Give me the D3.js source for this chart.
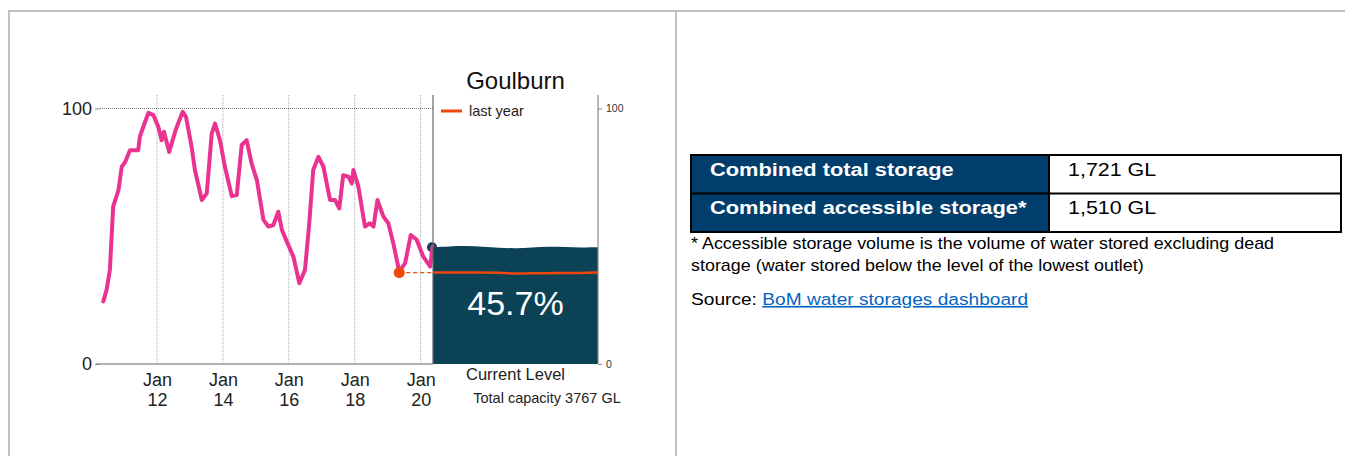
<!DOCTYPE html>
<html>
<head>
<meta charset="utf-8">
<script src="https://cdn.jsdelivr.net/npm/d3@7"></script>
<style>
  html, body { margin: 0; padding: 0; background: #fff; }
  svg { display: block; font-family: 'Liberation Sans', Arial, sans-serif; }
</style>
</head>
<body>
<div id="chart"></div>
<script>
// Goulburn storage level — history line + current level gauge, plus summary table

// time series (decimal year, % full)
const YEARS = [
  2010.37, 2010.47, 2010.52, 2010.57, 2010.67, 2010.83, 2010.93, 2011.03, 2011.18, 2011.43,
  2011.48, 2011.64, 2011.74, 2011.89, 2012.04, 2012.14, 2012.21, 2012.37, 2012.55, 2012.60,
  2012.78, 2012.88, 2013.05, 2013.15, 2013.36, 2013.51, 2013.66, 2013.76, 2013.91, 2014.06,
  2014.27, 2014.42, 2014.57, 2014.72, 2014.87, 2015.03, 2015.23, 2015.38, 2015.53, 2015.68,
  2015.79, 2015.94, 2016.14, 2016.32, 2016.49, 2016.62, 2016.74, 2016.90, 2017.05, 2017.25,
  2017.40, 2017.53, 2017.65, 2017.81, 2017.91, 2017.96, 2018.11, 2018.31, 2018.46, 2018.57,
  2018.69, 2018.87, 2019.02, 2019.17, 2019.35, 2019.53, 2019.70, 2019.88, 2020.08, 2020.29,
  2020.36,
];
const STORAGE_PCT = [
  24.5, 29.0, 33.0, 36.8, 61.6, 68.0, 77.2, 79.0, 83.7, 83.7,
  89.0, 94.8, 98.3, 97.4, 92.8, 87.6, 90.9, 83.0, 90.9, 92.8,
  98.7, 96.7, 85.0, 75.9, 64.2, 66.8, 90.2, 94.1, 87.6, 77.2,
  65.7, 66.1, 85.7, 87.6, 78.5, 72.0, 56.4, 53.8, 54.4, 59.6,
  52.5, 47.9, 42.0, 31.6, 36.8, 55.1, 75.9, 81.1, 77.2, 64.2,
  64.2, 60.9, 73.9, 73.3, 70.7, 75.9, 69.4, 53.8, 55.1, 53.8,
  64.2, 57.7, 55.1, 47.3, 36.2, 39.5, 50.5, 48.6, 42.0, 38.1,
  45.9,
];

const X_TICK_YEARS = [2012, 2014, 2016, 2018, 2020];
const X_TICK_LABELS = ['12', '14', '16', '18', '20'];
const Y_TICKS = [0, 100];

const DAM_NAME = 'Goulburn';
const CURRENT_PCT = 45.7;
const LAST_YEAR_PCT = 35.8;
const LAST_YEAR_AT = 2019.35;
const CAPACITY_GL = 3767;

const TABLE_LABELS = ['Combined total storage', 'Combined accessible storage*'];
const TABLE_VALUES = ['1,721 GL', '1,510 GL'];
const FOOTNOTE = [
  '* Accessible storage volume is the volume of water stored excluding dead',
  'storage (water stored below the level of the lowest outlet)',
];
const SOURCE_LINK = 'BoM water storages dashboard';

const COLORS = {
  line: '#ea3390',
  gauge: '#0c4256',
  lastYear: '#f0480a',
  header: '#013e6b',
  link: '#0563c1',
  frame: '#c0c0c0',
};

const W = 1345, H = 456;
const svg = d3.select('#chart').append('svg')
  .attr('width', W).attr('height', H)
  .attr('viewBox', `0 0 ${W} ${H}`);

// outer frame (two-column box)
const frame = svg.append('g').attr('stroke', COLORS.frame).attr('stroke-width', 2);
frame.append('line').attr('x1', 8).attr('x2', W).attr('y1', 11).attr('y2', 11);
frame.append('line').attr('x1', 9).attr('x2', 9).attr('y1', 10).attr('y2', H);
frame.append('line').attr('x1', 676).attr('x2', 676).attr('y1', 10).attr('y2', H);

// ---------- chart ----------
const plot = { left: 100, right: 433, top: 95, bottom: 364 };
const gauge = { left: 433, right: 598 };

const x = d3.scaleLinear().domain([2010.27, 2020.375]).range([plot.left, plot.right]);
const y = d3.scaleLinear().domain([0, 100]).range([plot.bottom, 108.5]);

const g = svg.append('g');

// vertical dotted grid at January ticks
g.append('g')
  .selectAll('line')
  .data(X_TICK_YEARS)
  .join('line')
  .attr('x1', d => x(d)).attr('x2', d => x(d))
  .attr('y1', plot.top).attr('y2', plot.bottom)
  .attr('stroke', '#aaa')
  .attr('stroke-width', 1)
  .attr('stroke-dasharray', '1,1');

// horizontal dotted line at 100
g.append('line')
  .attr('x1', plot.left).attr('x2', plot.right)
  .attr('y1', y(100)).attr('y2', y(100))
  .attr('stroke', '#777')
  .attr('stroke-width', 1)
  .attr('stroke-dasharray', '1,1');

// baseline
g.append('line')
  .attr('x1', plot.left - 4).attr('x2', plot.right)
  .attr('y1', y(0)).attr('y2', y(0))
  .attr('stroke', '#999').attr('stroke-width', 1.5);

// left axis
g.append('g')
  .attr('transform', `translate(${plot.left},0)`)
  .call(d3.axisLeft(y).tickValues(Y_TICKS).tickSize(5).tickPadding(3))
  .call(ax => ax.select('.domain').remove())
  .call(ax => ax.selectAll('line').attr('stroke', '#888'))
  .call(ax => ax.selectAll('text')
    .attr('font-size', 18).attr('fill', '#222')
    .attr('font-family', 'Liberation Sans, Arial, sans-serif'));

// bottom axis, two-line labels
const xAxis = g.append('g')
  .attr('transform', `translate(0,${plot.bottom})`)
  .call(d3.axisBottom(x).tickValues(X_TICK_YEARS).tickSize(0).tickFormat(() => ''))
  .call(ax => ax.select('.domain').remove());
xAxis.selectAll('.tick text').remove();
xAxis.selectAll('.tick').each(function (d, i) {
  const t = d3.select(this).append('text')
    .attr('text-anchor', 'middle')
    .attr('font-size', 18)
    .attr('fill', '#222')
    .attr('font-family', 'Liberation Sans, Arial, sans-serif');
  t.append('tspan').attr('x', 0).attr('y', 22).text('Jan');
  t.append('tspan').attr('x', 0).attr('y', 42).text(X_TICK_LABELS[i]);
});

// current level dot (sits under the gauge)
g.append('circle')
  .attr('cx', x(2020.36) - 0.5).attr('cy', y(CURRENT_PCT))
  .attr('r', 5)
  .attr('fill', COLORS.gauge);

// storage history line
const line = d3.line().x(d => x(d[0])).y(d => y(d[1]));
g.append('path')
  .datum(d3.zip(YEARS, STORAGE_PCT))
  .attr('d', line)
  .attr('fill', 'none')
  .attr('stroke', COLORS.line)
  .attr('stroke-width', 4)
  .attr('stroke-linejoin', 'round')
  .attr('stroke-linecap', 'round');

// last year marker + dashed guide to gauge
g.append('line')
  .attr('x1', x(LAST_YEAR_AT)).attr('x2', gauge.left)
  .attr('y1', y(LAST_YEAR_PCT)).attr('y2', y(LAST_YEAR_PCT))
  .attr('stroke', COLORS.lastYear)
  .attr('stroke-width', 1.3)
  .attr('stroke-dasharray', '4,3');
g.append('circle')
  .attr('cx', x(LAST_YEAR_AT)).attr('cy', y(LAST_YEAR_PCT))
  .attr('r', 5.5)
  .attr('fill', COLORS.lastYear);

// gauge: water body with a gently wavy surface
const wave = [0, 0.8, 1.4, 0.6, -0.6, -1.2, -0.4, 0.6, 0.2, -0.4, 0];
const gx = d3.scaleLinear().domain([0, wave.length - 1]).range([gauge.left, gauge.right]);
const surface = d3.line().curve(d3.curveBasis).x((d, i) => gx(i));

const topY = y(CURRENT_PCT);
const surfPts = wave.map(w => topY - w);
const waterPath = surface.y((d, i) => surfPts[i])(wave) +
  `L${gauge.right},${y(0)}L${gauge.left},${y(0)}Z`;
g.append('path')
  .attr('d', waterPath)
  .attr('fill', COLORS.gauge);

const lyY = y(LAST_YEAR_PCT);
const lyPts = wave.map((w, i) => lyY + (i > 4 ? 1.2 : 0) * Math.abs(w));
g.append('path')
  .attr('d', d3.line().curve(d3.curveBasis).x((d, i) => gx(i)).y((d, i) => lyPts[i])(wave))
  .attr('fill', 'none')
  .attr('stroke', COLORS.lastYear)
  .attr('stroke-width', 2.5);

// gauge frame lines
g.append('line')
  .attr('x1', gauge.left).attr('x2', gauge.left)
  .attr('y1', plot.top).attr('y2', plot.bottom)
  .attr('stroke', '#666').attr('stroke-width', 1.2);

g.append('g')
  .attr('transform', `translate(${gauge.right},0)`)
  .call(d3.axisRight(y).tickValues(Y_TICKS).tickSize(4).tickPadding(4))
  .call(ax => ax.select('.domain')
    .attr('d', `M0,${plot.top}V${plot.bottom}`)
    .attr('stroke', '#888').attr('stroke-width', 1.2))
  .call(ax => ax.selectAll('line').attr('stroke', '#888'))
  .call(ax => ax.selectAll('text')
    .attr('font-size', 10.5).attr('fill', '#333')
    .attr('font-family', 'Liberation Sans, Arial, sans-serif'));

const midG = (gauge.left + gauge.right) / 2;

g.append('text')
  .attr('x', midG).attr('y', 315)
  .attr('text-anchor', 'middle')
  .attr('font-size', 34).attr('fill', '#fff')
  .text(`${CURRENT_PCT}%`);

// title
g.append('text')
  .attr('x', midG).attr('y', 89)
  .attr('text-anchor', 'middle')
  .attr('font-size', 24).attr('fill', '#111')
  .text(DAM_NAME);

// legend
g.append('line')
  .attr('x1', 441).attr('x2', 462)
  .attr('y1', 111).attr('y2', 111)
  .attr('stroke', COLORS.lastYear).attr('stroke-width', 3);
g.append('text')
  .attr('x', 469).attr('y', 115.5)
  .attr('font-size', 14.5).attr('fill', '#222')
  .text('last year');

// gauge captions
g.append('text')
  .attr('x', midG).attr('y', 379.5)
  .attr('text-anchor', 'middle')
  .attr('font-size', 16.5).attr('fill', '#222')
  .text('Current Level');
g.append('text')
  .attr('x', 547).attr('y', 403)
  .attr('text-anchor', 'middle')
  .attr('font-size', 14.5).attr('fill', '#222')
  .text(`Total capacity ${CAPACITY_GL} GL`);

// ---------- summary table ----------
const tbl = { left: 691, right: 1341, top: 155, split: 1049, rowH: 38.5 };
const t = svg.append('g');
const stretch = 1.16;   // the panel's type is set wide

t.selectAll('.hdr')
  .data(TABLE_LABELS)
  .join('rect')
  .attr('class', 'hdr')
  .attr('x', tbl.left).attr('y', (d, i) => tbl.top + i * tbl.rowH)
  .attr('width', tbl.split - tbl.left).attr('height', tbl.rowH)
  .attr('fill', COLORS.header);

const grid = t.append('g').attr('stroke', '#000').attr('stroke-width', 2).attr('fill', 'none');
grid.append('rect')
  .attr('x', tbl.left).attr('y', tbl.top)
  .attr('width', tbl.right - tbl.left).attr('height', tbl.rowH * 2);
grid.append('line')
  .attr('x1', tbl.left).attr('x2', tbl.right)
  .attr('y1', tbl.top + tbl.rowH).attr('y2', tbl.top + tbl.rowH);
grid.append('line')
  .attr('x1', tbl.split).attr('x2', tbl.split)
  .attr('y1', tbl.top).attr('y2', tbl.top + tbl.rowH * 2);

t.selectAll('.lbl')
  .data(TABLE_LABELS)
  .join('text')
  .attr('class', 'lbl')
  .attr('transform', (d, i) => `translate(710,${175.7 + i * tbl.rowH}) scale(1.18,1)`)
  .attr('font-size', 18.5).attr('font-weight', 'bold').attr('fill', '#fff')
  .text(d => d);

t.selectAll('.val')
  .data(TABLE_VALUES)
  .join('text')
  .attr('class', 'val')
  .attr('transform', (d, i) => `translate(1068,${175.7 + i * tbl.rowH}) scale(${stretch},1)`)
  .attr('font-size', 18.5).attr('fill', '#000')
  .text(d => d);

t.selectAll('.note')
  .data(FOOTNOTE)
  .join('text')
  .attr('class', 'note')
  .attr('transform', (d, i) => `translate(691,${248.5 + i * 22}) scale(1.12,1)`)
  .attr('font-size', 16).attr('fill', '#000')
  .text(d => d);

const src = t.append('text')
  .attr('transform', `translate(691,305) scale(${stretch},1)`)
  .attr('font-size', 16.5).attr('fill', '#000');
src.append('tspan').text('Source: ');
src.append('tspan')
  .attr('fill', COLORS.link)
  .attr('text-decoration', 'underline')
  .text(SOURCE_LINK);
</script>
</body>
</html>
